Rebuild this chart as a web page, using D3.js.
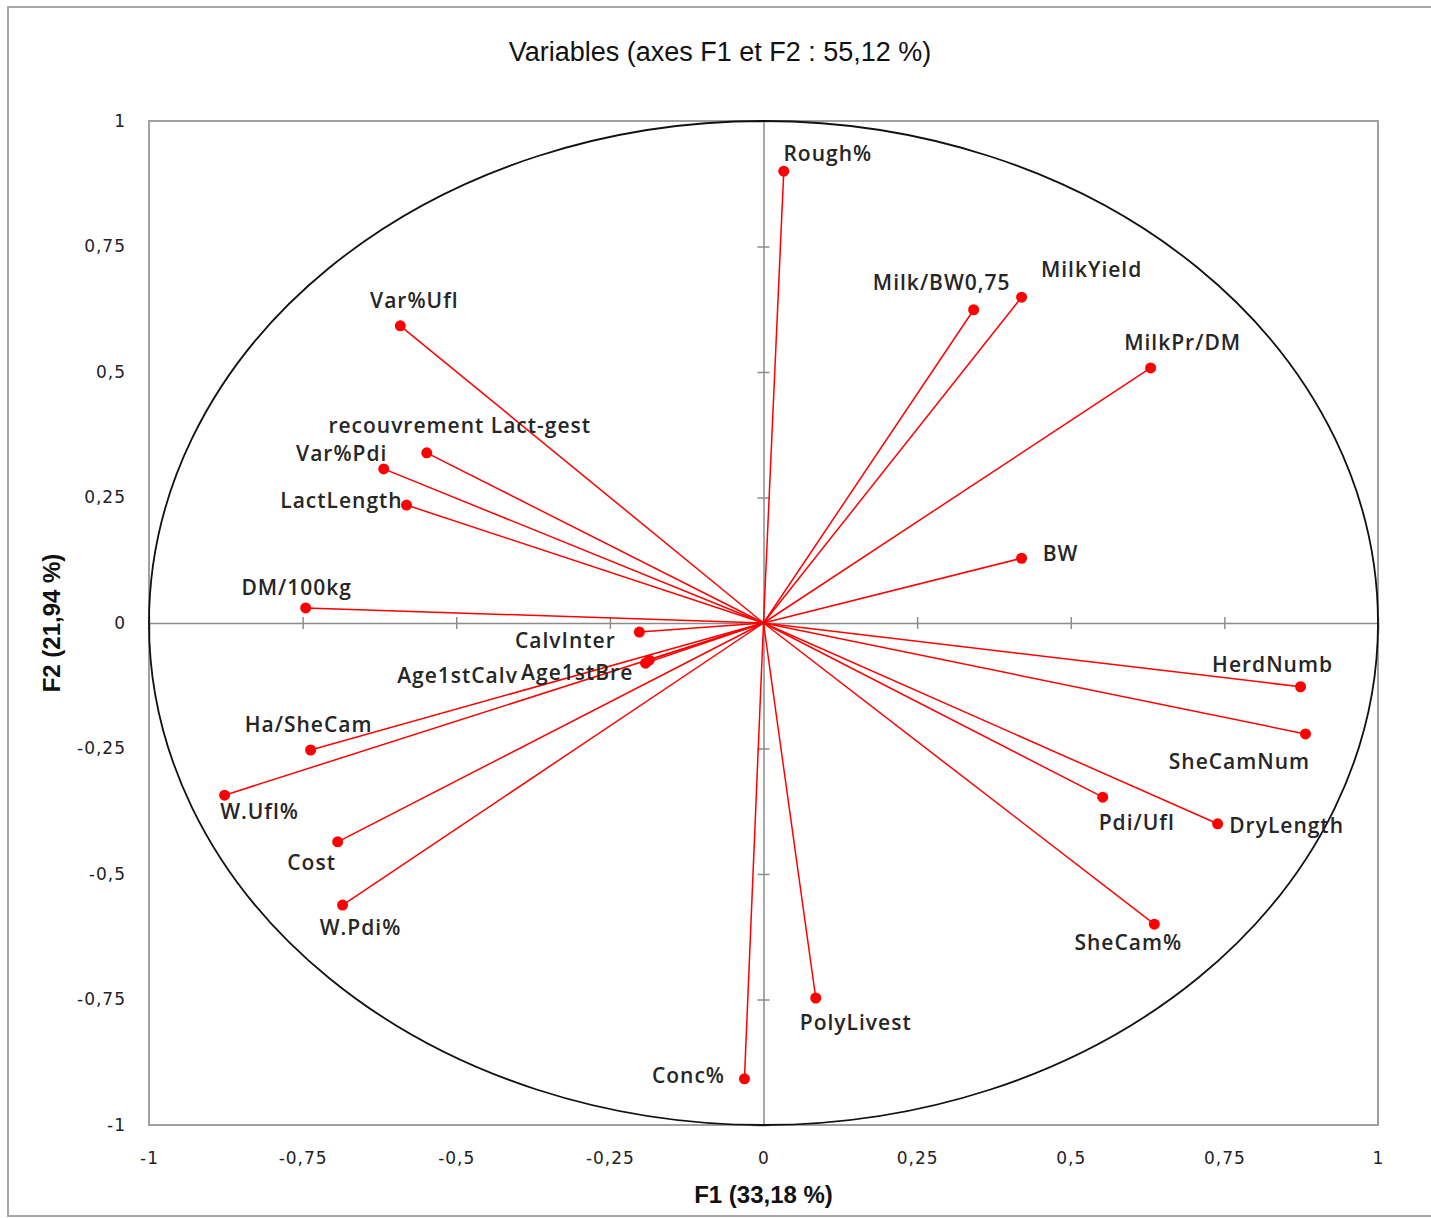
<!DOCTYPE html>
<html>
<head>
<meta charset="utf-8">
<script src="https://cdn.jsdelivr.net/npm/d3@7"></script>
<style>
  body { margin: 0; background: #fff; }
  .lbl { font-family: "Open Sans", sans-serif; font-size: 21px; letter-spacing: 1px; font-weight: 600; fill: #262626; }
  .tick text { font-family: "DejaVu Sans", sans-serif; font-size: 17px; letter-spacing: 1px; fill: #222; }
  .ttl { font-family: "Liberation Sans Narrow", "Liberation Sans", sans-serif; fill: #111; }
</style>
</head>
<body>
<svg width="1431" height="1218"></svg>
<script>
// variable names and their coordinates on F1 / F2
var names = ['Rough%', 'Milk/BW0,75', 'MilkYield', 'MilkPr/DM', 'BW', 'HerdNumb',
             'SheCamNum', 'Pdi/Ufl', 'DryLength', 'SheCam%', 'PolyLivest', 'Conc%',
             'W.Pdi%', 'Cost', 'W.Ufl%', 'Ha/SheCam', 'Age1stCalv', 'Age1stBre',
             'CalvInter', 'DM/100kg', 'LactLength', 'Var%Pdi', 'recouvrement Lact-gest', 'Var%Ufl'];
var f1 = [0.033, 0.342, 0.420, 0.630, 0.420, 0.874,
          0.882, 0.552, 0.739, 0.636, 0.085, -0.031,
          -0.685, -0.693, -0.877, -0.737, -0.192, -0.186,
          -0.202, -0.745, -0.581, -0.618, -0.548, -0.591];
var f2 = [0.900, 0.624, 0.649, 0.508, 0.129, -0.127,
          -0.221, -0.347, -0.400, -0.600, -0.747, -0.908,
          -0.562, -0.436, -0.343, -0.253, -0.080, -0.074,
          -0.018, 0.030, 0.235, 0.307, 0.339, 0.592];
var tickValues = [-1, -0.75, -0.5, -0.25, 0, 0.25, 0.5, 0.75, 1];
var tickLabels = ['-1', '-0,75', '-0,5', '-0,25', '0', '0,25', '0,5', '0,75', '1'];

// label placement (pixel offset of the label centre from its point)
var labelDx = [44, -32, 70, 32, 39, -28,
               -66, 34, 69, -26, 40, -56,
               18, -26, 35, -2, -188, -72,
               -74, -9, -65, -42, 33, 14];
var labelDy = [-18, -28, -28, -26, -5, -23,
               27, 25, 1, 18, 24, -4,
               22, 20, 16, -26, 12, 12,
               8, -21, -5, -16, -28, -26];

var data = names.map(function(n, i) {
  return { name: n, x: f1[i], y: f2[i], dx: labelDx[i], dy: labelDy[i] };
});

var svg = d3.select('svg');

var xScale = d3.scaleLinear().domain([-1, 1]).range([149, 1378]);
var yScale = d3.scaleLinear().domain([-1, 1]).range([1125, 121]);
var fmt = function(d) { return tickLabels[tickValues.indexOf(d)]; };

// outer frame
svg.append('rect')
   .attr('x', 8).attr('y', 7)
   .attr('width', 1440).attr('height', 1209)
   .style('fill', 'none').style('stroke', '#a6a6a6').style('stroke-width', 2);

// plot box
svg.append('rect')
   .attr('x', xScale(-1)).attr('y', yScale(1))
   .attr('width', xScale(1) - xScale(-1))
   .attr('height', yScale(-1) - yScale(1))
   .style('fill', 'none').style('stroke', '#a0a0a0').style('stroke-width', 2);

// tick labels on the edges
svg.append('g')
   .attr('transform', 'translate(0,' + (yScale(-1) + 24) + ')')
   .call(d3.axisBottom(xScale).tickValues(tickValues).tickFormat(fmt).tickSize(0))
   .call(function(g) { g.select('.domain').remove(); });

svg.append('g')
   .attr('transform', 'translate(' + (xScale(-1) - 20) + ',0)')
   .call(d3.axisLeft(yScale).tickValues(tickValues).tickFormat(fmt).tickSize(0))
   .call(function(g) { g.select('.domain').remove(); });

// centre axes with crossing ticks
svg.append('g')
   .attr('transform', 'translate(0,' + yScale(0) + ')')
   .call(d3.axisBottom(xScale).tickValues(tickValues).tickFormat('').tickSize(12))
   .call(function(g) {
     g.select('.domain').style('stroke', '#8c8c8c').style('stroke-width', 1.5);
     g.selectAll('.tick line').attr('y1', -6).attr('y2', 6).style('stroke', '#8c8c8c').style('stroke-width', 1.5);
   });

svg.append('g')
   .attr('transform', 'translate(' + xScale(0) + ',0)')
   .call(d3.axisLeft(yScale).tickValues(tickValues).tickFormat('').tickSize(12))
   .call(function(g) {
     g.select('.domain').style('stroke', '#8c8c8c').style('stroke-width', 1.5);
     g.selectAll('.tick line').attr('x1', -6).attr('x2', 6).style('stroke', '#8c8c8c').style('stroke-width', 1.5);
   });

// correlation circle
svg.append('ellipse')
   .attr('cx', xScale(0)).attr('cy', yScale(0))
   .attr('rx', xScale(1) - xScale(0))
   .attr('ry', yScale(0) - yScale(1))
   .style('fill', 'none').style('stroke', '#111').style('stroke-width', 1.8);

// vectors
svg.selectAll('line.vec')
   .data(data)
   .enter()
   .append('line')
   .attr('class', 'vec')
   .attr('x1', xScale(0)).attr('y1', yScale(0))
   .attr('x2', function(d) { return xScale(d.x); })
   .attr('y2', function(d) { return yScale(d.y); })
   .style('stroke', '#ff0000').style('stroke-width', 1.5);

svg.selectAll('circle.pt')
   .data(data)
   .enter()
   .append('circle')
   .attr('class', 'pt')
   .attr('r', 5.5)
   .attr('cx', function(d) { return xScale(d.x); })
   .attr('cy', function(d) { return yScale(d.y); })
   .style('fill', '#ff0000');

svg.selectAll('text.lbl')
   .data(data)
   .enter()
   .append('text')
   .attr('class', 'lbl')
   .attr('x', function(d) { return xScale(d.x) + d.dx; })
   .attr('y', function(d) { return yScale(d.y) + d.dy; })
   .attr('text-anchor', 'middle')
   .attr('dominant-baseline', 'central')
   .text(function(d) { return d.name; });

// titles
svg.append('text')
   .attr('class', 'ttl')
   .attr('x', 720).attr('y', 61)
   .attr('text-anchor', 'middle')
   .style('font-size', '27px')
   .text('Variables (axes F1 et F2 : 55,12 %)');

svg.append('text')
   .attr('class', 'ttl')
   .attr('x', xScale(0)).attr('y', 1203)
   .attr('text-anchor', 'middle')
   .style('font-size', '24px').style('font-weight', 'bold')
   .text('F1 (33,18 %)');

svg.append('text')
   .attr('class', 'ttl')
   .attr('transform', 'translate(60,' + yScale(0) + ') rotate(-90)')
   .attr('text-anchor', 'middle')
   .style('font-size', '24px').style('font-weight', 'bold')
   .text('F2 (21,94 %)');
</script>
</body>
</html>
